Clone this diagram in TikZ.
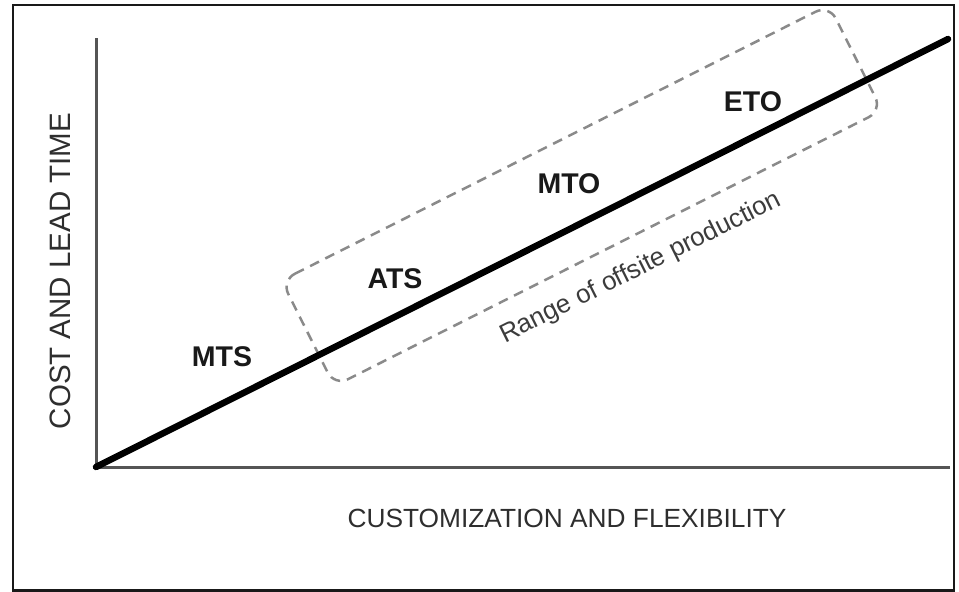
\documentclass[tikz,border=0pt]{standalone}
\usepackage{fontspec}
\setmainfont{Liberation Sans}
\definecolor{axisgray}{HTML}{555555}
\definecolor{textgray}{HTML}{2E2E2E}
\definecolor{rangegray}{HTML}{3C3C3C}
\definecolor{dashgray}{HTML}{8A8A8A}
\tikzset{
  stagelabel/.style={font=\fontsize{28.5}{30}\selectfont\bfseries, text=black!90, inner sep=0pt},
  axislabel/.style={text=textgray, inner sep=0pt},
  axisline/.style={draw=axisgray, line width=3pt},
  mainline/.style={draw=black, line width=6.5pt, line cap=round},
  rangebox/.style={draw=dashgray, line width=2.5pt, dash pattern=on 10pt off 7pt, rounded corners=15pt},
}
\begin{document}
\begin{tikzpicture}[x=1pt,y=-1pt]
\useasboundingbox (0,0) rectangle (959,592);
% frame
\draw[line width=2.8pt, draw=black!90] (13,5) rectangle (954,590.5);
% axes
\coordinate (origin) at (96,467);
\coordinate (ytop) at (96,38);
\coordinate (xend) at (950,467);
\coordinate (lineend) at (948,39);
\draw[axisline] (ytop) -- (origin) -- (xend);
% range box
\coordinate (tl) at (281.5,280.5);
\coordinate (tr) at (829,5);
\coordinate (br) at (882,110.5);
\coordinate (bl) at (334.5,386);
\draw[rangebox] (tl) -- (tr) -- (br) -- (bl) -- cycle;
% main line
\draw[mainline] (origin) -- (lineend);
% labels
\node[stagelabel] (mts) at (222,357) {MTS};
\node[stagelabel] (ats) at (395,279) {ATS};
\node[stagelabel] (mto) at (569,184) {MTO};
\node[stagelabel] (eto) at (753,102) {ETO};
\node[axislabel, text=rangegray, rotate=26.5, font=\fontsize{26}{28}\selectfont] (range) at (641,268) {Range of offsite production};
\node[axislabel, rotate=90, font=\fontsize{29.5}{31}\selectfont] (ylab) at (60,271) {COST AND LEAD TIME};
\node[axislabel, font=\fontsize{26.3}{28}\selectfont] (xlab) at (567,518) {CUSTOMIZATION AND FLEXIBILITY};
\end{tikzpicture}
\end{document}
